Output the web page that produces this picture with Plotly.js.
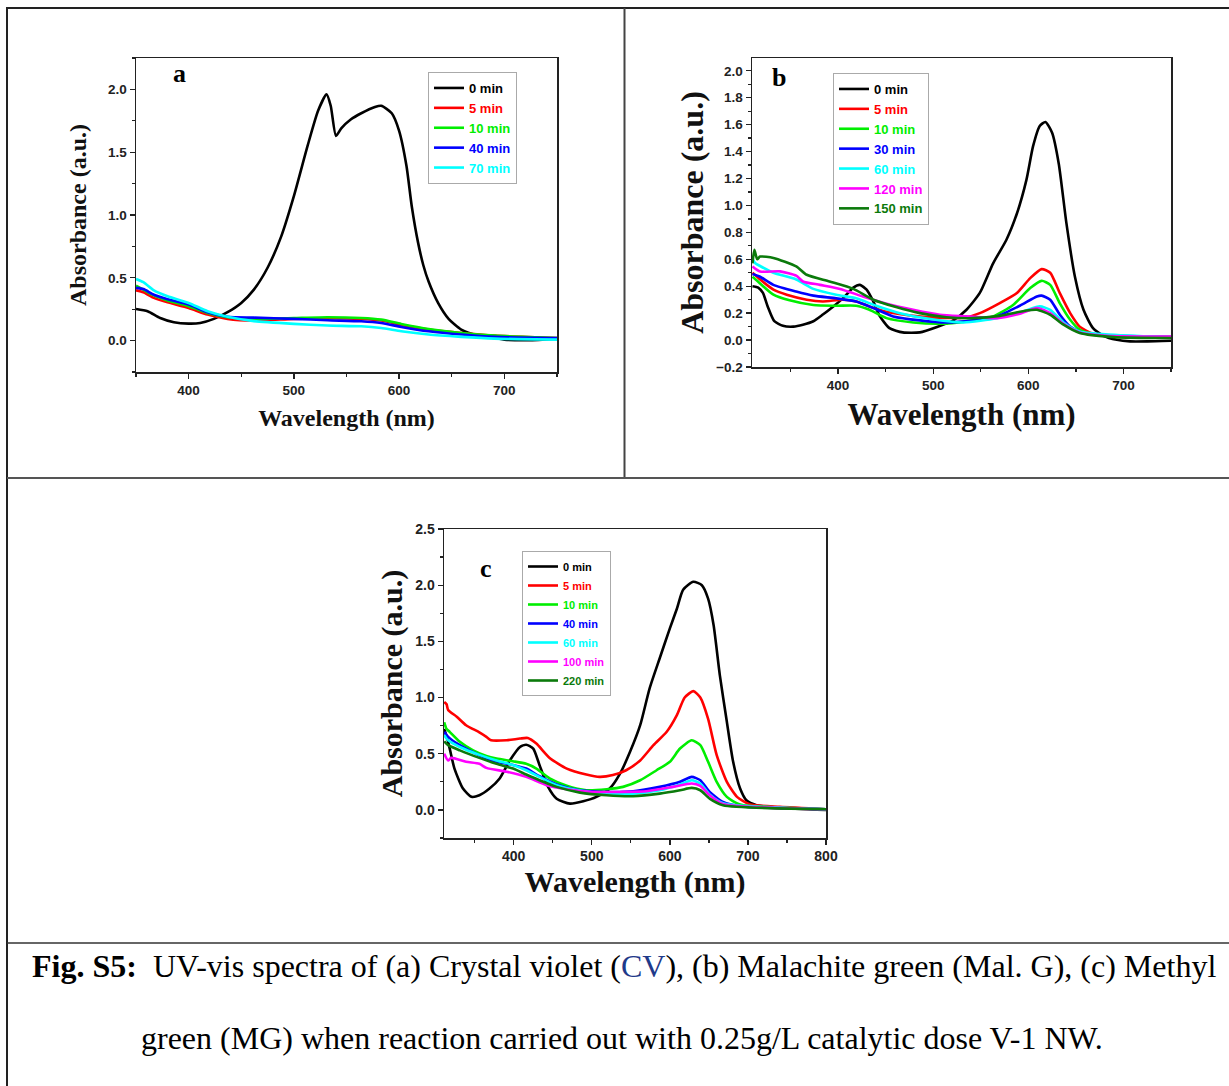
<!DOCTYPE html>
<html>
<head>
<meta charset="utf-8">
<script src="https://cdn.plot.ly/plotly-3.0.1.min.js"></script>
<style>
html,body{margin:0;padding:0;background:#fff;}
#chart{width:1229px;height:1086px;}
</style>
</head>
<body>
<div id="chart"></div>
<script>
// ---------------- Panel a : Crystal violet (CV) ----------------
const aWl0   = [350,361,373,386,400,411,424,437,450,462,475,488,500,513,523,531,535,540,545,554,564,577,583,593,600,607,612,618,623,628,637,647,659,675,691,700,723,750];
const aAbs0  = [0.252,0.234,0.18,0.146,0.135,0.14,0.173,0.226,0.30,0.406,0.58,0.83,1.15,1.55,1.83,1.96,1.87,1.63,1.69,1.76,1.81,1.86,1.87,1.81,1.67,1.39,1.07,0.78,0.60,0.47,0.30,0.173,0.088,0.04,0.021,0.008,0.003,0.013];
const aWl    = [350,357,367,380,400,418,437,462,500,532,564,583,602,628,659,691,750];
const aAbs5  = [0.40,0.385,0.34,0.305,0.26,0.207,0.173,0.16,0.173,0.178,0.173,0.16,0.125,0.088,0.061,0.04,0.021];
const aAbs10 = [0.438,0.406,0.36,0.32,0.274,0.22,0.186,0.173,0.18,0.186,0.18,0.167,0.133,0.093,0.061,0.04,0.021];
const aAbs40 = [0.42,0.41,0.365,0.33,0.287,0.226,0.19,0.183,0.173,0.162,0.154,0.14,0.109,0.074,0.048,0.03,0.021];
const aAbs70 = [0.49,0.465,0.40,0.353,0.30,0.234,0.19,0.155,0.133,0.12,0.114,0.10,0.074,0.048,0.03,0.016,0.008];
const aNames = ["0 min","5 min","10 min","40 min","70 min"];

// ---------------- Panel b : Malachite green (Mal. G) ----------------
const bWl0    = [310,316,321,326,333,342,353,363,374,384,395,405,416,423,430,437,444,454,468,486,504,521,535,549,563,577,588,598,605,612,618,625,632,640,649,658,668,679,693,707,725,750];
const bAbs0   = [0.40,0.39,0.35,0.25,0.14,0.106,0.10,0.114,0.14,0.19,0.25,0.31,0.39,0.41,0.374,0.287,0.176,0.089,0.057,0.057,0.097,0.146,0.225,0.35,0.57,0.745,0.94,1.19,1.44,1.59,1.62,1.54,1.31,0.87,0.47,0.225,0.089,0.032,0.002,-0.01,-0.01,-0.005];
const bWl5    = [310,318,332,346,367,384,405,419,433,451,479,507,535,549,570,588,602,614,623,633,644,654,668,690,750];
const bAbs5   = [0.50,0.45,0.374,0.337,0.30,0.287,0.30,0.287,0.25,0.21,0.18,0.165,0.17,0.20,0.275,0.35,0.46,0.527,0.50,0.35,0.20,0.10,0.047,0.027,0.022];
const bWl10   = [310,318,332,349,374,398,419,433,451,479,507,535,563,584,602,614,623,633,644,654,672,750];
const bAbs10  = [0.47,0.42,0.337,0.295,0.26,0.255,0.255,0.225,0.163,0.131,0.121,0.139,0.176,0.26,0.386,0.44,0.41,0.275,0.151,0.077,0.04,0.022];
const bWl30   = [310,318,332,356,374,398,419,437,458,486,514,542,567,591,609,614,623,633,644,658,750];
const bAbs30  = [0.49,0.47,0.41,0.36,0.33,0.31,0.287,0.238,0.176,0.146,0.131,0.146,0.176,0.255,0.324,0.33,0.30,0.19,0.10,0.052,0.022];
const bWl60   = [310,313,318,332,356,374,398,419,440,465,497,532,567,595,612,623,637,654,750];
const bAbs60  = [0.60,0.57,0.55,0.50,0.45,0.38,0.337,0.31,0.255,0.20,0.156,0.131,0.163,0.213,0.25,0.225,0.131,0.064,0.022];
const bWl120  = [310,318,339,356,363,381,402,426,451,479,507,535,567,591,609,623,637,654,682,750];
const bAbs120 = [0.547,0.51,0.51,0.478,0.435,0.41,0.38,0.324,0.27,0.225,0.188,0.176,0.163,0.196,0.238,0.20,0.121,0.057,0.032,0.027];
const bWl150  = [310,312,315,318,332,356,367,391,416,437,461,486,514,542,570,598,609,623,637,654,690,750];
const bAbs150 = [0.57,0.67,0.60,0.62,0.61,0.547,0.485,0.435,0.38,0.30,0.245,0.20,0.17,0.163,0.18,0.22,0.225,0.188,0.114,0.052,0.022,0.015];
const bNames  = ["0 min","5 min","10 min","30 min","60 min","120 min","150 min"];

// ---------------- Panel c : Methyl green (MG) ----------------
const cWl0    = [311,316,324,335,346,356,369,382,395,408,416,425,433,444,455,472,489,506,523,536,549,562,574,587,600,609,617,630,641,649,656,664,673,681,690,698,711,741,800];
const cAbs0   = [0.72,0.606,0.37,0.19,0.116,0.13,0.19,0.28,0.44,0.56,0.58,0.546,0.40,0.205,0.10,0.056,0.077,0.116,0.19,0.32,0.517,0.754,1.08,1.35,1.615,1.79,1.96,2.03,2.00,1.88,1.645,1.20,0.784,0.43,0.19,0.086,0.042,0.018,0.0];
const cWl5    = [311,314,316,327,339,356,365,371,391,408,418,429,446,468,493,510,527,544,562,579,596,609,619,630,639,649,660,673,686,703,741,800];
const cAbs5   = [0.96,0.94,0.89,0.83,0.754,0.69,0.65,0.62,0.62,0.635,0.64,0.59,0.463,0.368,0.315,0.294,0.31,0.353,0.44,0.576,0.695,0.843,1.00,1.057,1.00,0.81,0.487,0.25,0.116,0.048,0.027,0.006];
const cWl10   = [311,314,318,331,348,365,378,399,416,429,446,468,493,519,540,562,583,600,613,628,639,649,660,673,690,800];
const cAbs10  = [0.78,0.72,0.695,0.606,0.53,0.48,0.457,0.433,0.41,0.368,0.28,0.214,0.175,0.184,0.205,0.264,0.353,0.428,0.546,0.62,0.576,0.428,0.25,0.116,0.048,0.006];
const cWl40   = [311,316,331,356,378,399,416,433,455,485,519,553,587,613,628,639,651,668,690,800];
const cAbs40  = [0.695,0.65,0.576,0.487,0.428,0.40,0.368,0.30,0.226,0.175,0.16,0.166,0.205,0.25,0.294,0.264,0.16,0.071,0.033,0.006];
const cWl60   = [311,316,331,356,378,399,416,433,455,485,519,553,587,613,628,639,651,668,800];
const cAbs60  = [0.665,0.62,0.56,0.49,0.44,0.40,0.353,0.294,0.22,0.172,0.145,0.145,0.175,0.226,0.264,0.235,0.137,0.06,0.006];
const cWl100  = [311,316,320,339,356,365,391,416,442,468,502,536,570,604,628,639,651,668,800];
const cAbs100 = [0.50,0.44,0.463,0.428,0.41,0.374,0.34,0.294,0.22,0.184,0.16,0.16,0.166,0.205,0.235,0.214,0.13,0.053,0.006];
const cWl220  = [311,316,331,356,378,399,416,433,455,485,519,553,587,613,628,639,651,668,800];
const cAbs220 = [0.61,0.576,0.53,0.463,0.41,0.368,0.315,0.264,0.205,0.154,0.13,0.122,0.145,0.175,0.196,0.175,0.10,0.042,0.006];
const cNames  = ["0 min","5 min","10 min","40 min","60 min","100 min","220 min"];

// ---------------- styling ----------------
const COL = {black:"#000000", red:"#ff0000", green:"#00ee00", blue:"#0000ff", cyan:"#00ffff", magenta:"#ff00ff", dkgreen:"#0b7a0b"};
const W = 1229, H = 1086;
const px = x => x / W;
const py = y => 1 - y / H;

function tr(x, y, name, color, ax, lg) {
  return {
    type: "scatter", mode: "lines", x: x, y: y,
    name: '<span style="color:' + color + '">' + name + '</span>',
    line: {color: color, width: 2.6, shape: "spline", smoothing: 0.6},
    xaxis: "x" + ax, yaxis: "y" + ax, legend: lg, hoverinfo: "x+y"
  };
}

const data = [
  tr(aWl0, aAbs0, aNames[0], COL.black, "", "legend"),
  tr(aWl, aAbs5, aNames[1], COL.red, "", "legend"),
  tr(aWl, aAbs10, aNames[2], COL.green, "", "legend"),
  tr(aWl, aAbs40, aNames[3], COL.blue, "", "legend"),
  tr(aWl, aAbs70, aNames[4], COL.cyan, "", "legend"),

  tr(bWl0, bAbs0, bNames[0], COL.black, "2", "legend2"),
  tr(bWl5, bAbs5, bNames[1], COL.red, "2", "legend2"),
  tr(bWl10, bAbs10, bNames[2], COL.green, "2", "legend2"),
  tr(bWl30, bAbs30, bNames[3], COL.blue, "2", "legend2"),
  tr(bWl60, bAbs60, bNames[4], COL.cyan, "2", "legend2"),
  tr(bWl120, bAbs120, bNames[5], COL.magenta, "2", "legend2"),
  tr(bWl150, bAbs150, bNames[6], COL.dkgreen, "2", "legend2"),

  tr(cWl0, cAbs0, cNames[0], COL.black, "3", "legend3"),
  tr(cWl5, cAbs5, cNames[1], COL.red, "3", "legend3"),
  tr(cWl10, cAbs10, cNames[2], COL.green, "3", "legend3"),
  tr(cWl40, cAbs40, cNames[3], COL.blue, "3", "legend3"),
  tr(cWl60, cAbs60, cNames[4], COL.cyan, "3", "legend3"),
  tr(cWl100, cAbs100, cNames[5], COL.magenta, "3", "legend3"),
  tr(cWl220, cAbs220, cNames[6], COL.dkgreen, "3", "legend3")
];

const SANS = "Liberation Sans, Arial, sans-serif";
const SERIF = "Liberation Serif, Times New Roman, serif";
const tickFont = s => ({family: SANS, size: s, weight: "bold", color: "#222"});

function axis(opts) {
  return Object.assign({
    showline: true, mirror: true, linecolor: "#222", linewidth: 1.5,
    ticks: "outside", ticklen: 5, tickwidth: 1.3, tickcolor: "#222",
    showgrid: false, zeroline: false, automargin: false
  }, opts);
}

function legendBox(x, y, size) {
  return {
    x: px(x), y: py(y), xref: "paper", yref: "paper", xanchor: "left", yanchor: "top",
    bgcolor: "#ffffff", bordercolor: "#aaaaaa", borderwidth: 1,
    font: {family: SANS, size: size, weight: "bold", color: "#000"},
    itemwidth: 30, traceorder: "normal", tracegroupgap: 0
  };
}

const layout = {
  width: W, height: H,
  margin: {l: 0, r: 0, t: 0, b: 0, autoexpand: false},
  paper_bgcolor: "#ffffff", plot_bgcolor: "#ffffff",
  showlegend: true,
  xaxis: axis({domain: [px(136), px(557)], range: [350, 750], dtick: 100, tick0: 0, tickfont: tickFont(13.5),
    minor: {ticks: "outside", ticklen: 3, tickcolor: "#222", dtick: 50},
    title: {text: "<b>Wavelength (nm)</b>", font: {family: SERIF, size: 24, color: "#111"}, standoff: 12}, anchor: "y"}),
  yaxis: axis({domain: [py(372), py(58)], range: [-0.25, 2.25], dtick: 0.5, tick0: 0, tickformat: ".1f", tickfont: tickFont(13.5),
    minor: {ticks: "outside", ticklen: 3, tickcolor: "#222", dtick: 0.25},
    title: {text: "<b>Absorbance (a.u.)</b>", font: {family: SERIF, size: 24, color: "#111"}, standoff: 14}, anchor: "x"}),

  xaxis2: axis({domain: [px(752), px(1171)], range: [309.5, 750], dtick: 100, tick0: 0, tickfont: tickFont(13.5),
    minor: {ticks: "outside", ticklen: 3, tickcolor: "#222", dtick: 50},
    title: {text: "<b>Wavelength (nm)</b>", font: {family: SERIF, size: 31, color: "#111"}, standoff: 11}, anchor: "y2"}),
  yaxis2: axis({domain: [py(367), py(58)], range: [-0.2, 2.095], dtick: 0.2, tick0: 0, tickformat: ".1f", tickfont: tickFont(13.5),
    minor: {ticks: "outside", ticklen: 3, tickcolor: "#222", dtick: 0.1},
    title: {text: "<b>Absorbance (a.u.)</b>", font: {family: SERIF, size: 32, color: "#111"}, standoff: 3}, anchor: "x2"}),

  xaxis3: axis({domain: [px(444), px(826)], range: [310.7, 800], dtick: 100, tick0: 0, tickfont: tickFont(14),
    minor: {ticks: "outside", ticklen: 3, tickcolor: "#222", dtick: 50},
    title: {text: "<b>Wavelength (nm)</b>", font: {family: SERIF, size: 30, color: "#111"}, standoff: 7}, anchor: "y3"}),
  yaxis3: axis({domain: [py(838), py(529)], range: [-0.25, 2.5], dtick: 0.5, tick0: 0, tickformat: ".1f", tickfont: tickFont(14),
    minor: {ticks: "outside", ticklen: 3, tickcolor: "#222", dtick: 0.25},
    title: {text: "<b>Absorbance (a.u.)</b>", font: {family: SERIF, size: 30, color: "#111"}, standoff: 3}, anchor: "x3"}),

  legend: legendBox(428, 72, 13),
  legend2: legendBox(833, 73, 13),
  legend3: legendBox(522, 551, 11),

  shapes: [
    {type: "line", xref: "paper", yref: "paper", x0: px(7), x1: 1, y0: py(8), y1: py(8), line: {color: "#222", width: 2}},
    {type: "line", xref: "paper", yref: "paper", x0: px(7), x1: px(7), y0: py(7), y1: 0, line: {color: "#222", width: 2}},
    {type: "line", xref: "paper", yref: "paper", x0: px(624.5), x1: px(624.5), y0: py(8), y1: py(478), line: {color: "#444", width: 2}},
    {type: "line", xref: "paper", yref: "paper", x0: px(7), x1: 1, y0: py(478), y1: py(478), line: {color: "#555", width: 2}},
    {type: "line", xref: "paper", yref: "paper", x0: px(7), x1: 1, y0: py(943), y1: py(943), line: {color: "#333", width: 1.5}}
  ],

  annotations: [
    {text: "<b>a</b>", xref: "paper", yref: "paper", x: px(171), y: py(57), showarrow: false, font: {family: SERIF, size: 26, color: "#000"}},
    {text: "<b>b</b>", xref: "paper", yref: "paper", x: px(779), y: py(61), showarrow: false, font: {family: SERIF, size: 26, color: "#000"}},
    {text: "<b>c</b>", xref: "paper", yref: "paper", x: px(486), y: py(568), showarrow: false, font: {family: SERIF, size: 26, color: "#000"}},
    {text: '<b>Fig. S5:</b>&nbsp; UV-vis spectra of (a) Crystal violet (<span style="color:#1f3a8a">CV</span>), (b) Malachite green (Mal. G), (c) Methyl',
     xref: "paper", yref: "paper", x: px(30), y: py(966), xanchor: "left", yanchor: "middle", showarrow: false,
     font: {family: SERIF, size: 32, color: "#000"}},
    {text: "green (MG) when reaction carried out with 0.25g/L catalytic dose V-1 NW.",
     xref: "paper", yref: "paper", x: px(622), y: py(1038), xanchor: "center", yanchor: "middle", showarrow: false,
     font: {family: SERIF, size: 32, color: "#000"}}
  ]
};

Plotly.newPlot("chart", data, layout, {displayModeBar: false, staticPlot: true});
</script>
</body>
</html>
